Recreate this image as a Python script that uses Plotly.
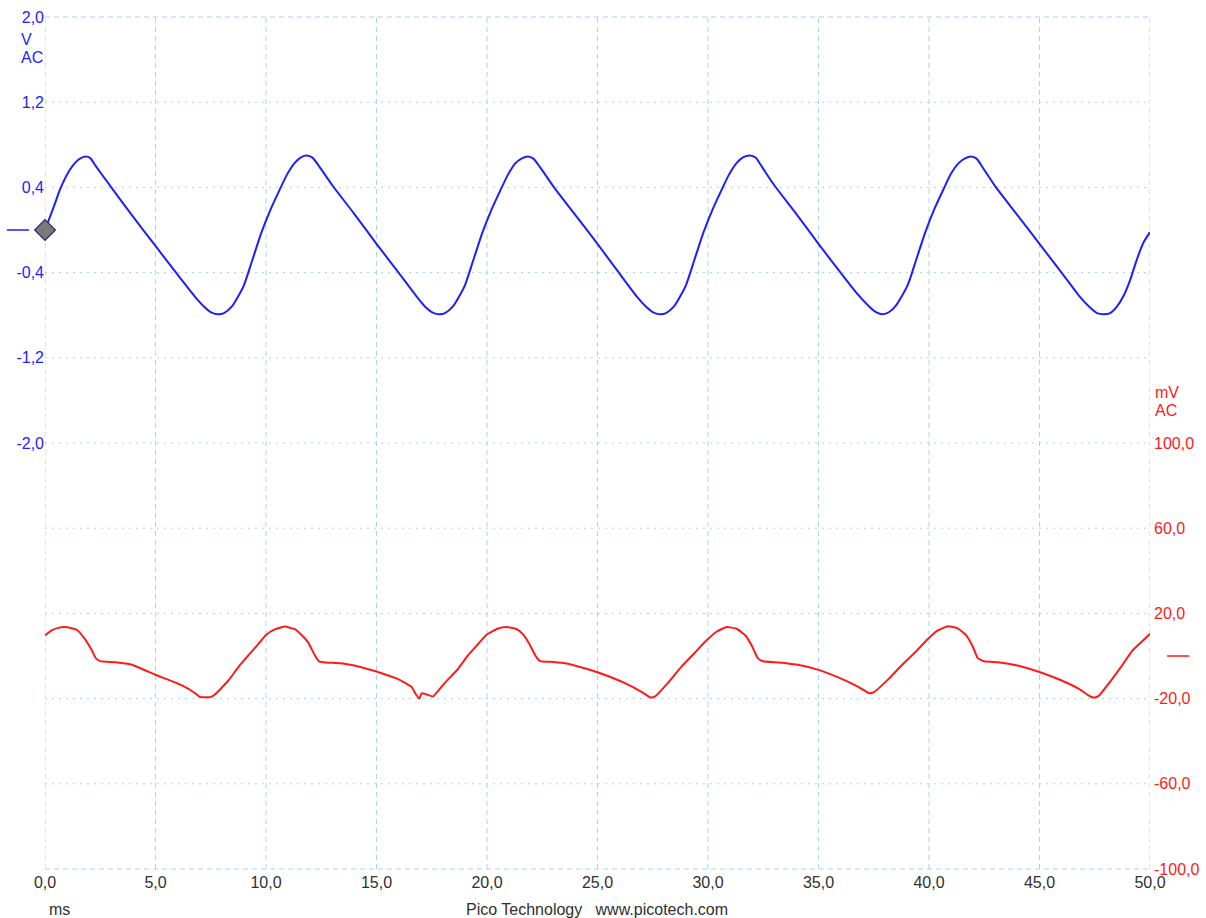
import plotly.graph_objects as go

# ---------------- data ----------------
blue_t = [0.0, 0.4, 0.7, 1.05, 1.4, 1.62, 1.85, 2.05, 2.3, 3.0, 4.0, 5.0, 6.0, 6.8, 7.2, 7.5, 7.8, 8.1, 8.45, 8.75,
          9.0, 9.4, 9.8, 10.2, 10.6, 10.95, 11.3, 11.6, 11.85, 12.1, 12.4, 13.0, 14.0, 15.0, 16.0, 16.8, 17.2, 17.5,
          17.8, 18.1, 18.45, 18.75, 19.0, 19.4, 19.8, 20.2, 20.6, 20.95, 21.3, 21.6, 21.85, 22.1, 22.4, 23.0, 24.0,
          25.0, 26.0, 26.8, 27.2, 27.5, 27.8, 28.1, 28.45, 28.75, 29.0, 29.4, 29.8, 30.2, 30.6, 30.95, 31.3, 31.6,
          31.9, 32.15, 32.45, 33.0, 34.0, 35.0, 36.0, 36.8, 37.3, 37.6, 37.9, 38.2, 38.5, 38.8, 39.05, 39.45, 39.85,
          40.25, 40.65, 41.0, 41.35, 41.65, 41.9, 42.15, 42.45, 43.0, 44.0, 45.0, 46.0, 46.8, 47.3, 47.6, 47.9, 48.2,
          48.5, 48.8, 49.1, 49.4, 49.7, 50.0]
blue_v = [0.00, 0.22, 0.39, 0.54, 0.64, 0.675, 0.69, 0.675, 0.60, 0.40, 0.12, -0.15, -0.42, -0.63, -0.72, -0.77,
          -0.79, -0.78, -0.72, -0.62, -0.52, -0.27, -0.02, 0.19, 0.37, 0.52, 0.63, 0.685, 0.70, 0.68, 0.60, 0.42,
          0.15, -0.13, -0.40, -0.62, -0.72, -0.77, -0.79, -0.78, -0.72, -0.62, -0.52, -0.27, -0.02, 0.19, 0.37,
          0.52, 0.63, 0.675, 0.69, 0.67, 0.59, 0.41, 0.14, -0.13, -0.41, -0.63, -0.72, -0.77, -0.79, -0.78, -0.72,
          -0.62, -0.52, -0.27, -0.02, 0.19, 0.37, 0.52, 0.63, 0.685, 0.70, 0.68, 0.59, 0.42, 0.15, -0.13, -0.40,
          -0.61, -0.72, -0.77, -0.79, -0.77, -0.71, -0.61, -0.51, -0.26, -0.01, 0.20, 0.38, 0.53, 0.63, 0.675,
          0.69, 0.67, 0.58, 0.41, 0.14, -0.13, -0.40, -0.62, -0.73, -0.78, -0.79, -0.78, -0.72, -0.62, -0.47,
          -0.28, -0.12, -0.02]

red_t = [0.0, 0.3, 0.6, 0.9, 1.2, 1.45, 1.8, 2.1, 2.3, 2.5, 3.2, 3.9, 5.0, 6.2, 6.8, 7.0, 7.5, 7.7, 8.3, 8.8, 9.3,
         9.6, 10.0, 10.4, 10.85, 11.3, 11.6, 11.9, 12.2, 12.4, 12.7, 13.4, 14.0, 15.2, 16.0, 16.6, 16.75, 16.94,
         17.04, 17.26, 17.56, 18.1, 18.63, 19.08, 19.5, 19.98, 20.5, 20.9, 21.3, 21.6, 21.9, 22.2, 22.4, 23.0, 23.6,
         24.5, 25.5, 26.5, 27.1, 27.4, 27.6, 28.2, 28.8, 29.4, 29.9, 30.4, 30.85, 31.3, 31.7, 32.0, 32.25, 32.5,
         33.2, 34.0, 35.0, 36.0, 36.8, 37.3, 37.5, 38.2, 38.8, 39.4, 39.9, 40.4, 40.85, 41.3, 41.7, 42.0, 42.2, 42.5,
         43.2, 44.0, 45.0, 46.0, 46.8, 47.3, 47.5, 47.7, 48.2, 48.7, 49.2, 49.6, 50.0]
red_v = [9.6, 12.0, 13.2, 13.6, 13.0, 12.2, 8.0, 3.0, -1.0, -2.4, -2.9, -4.0, -8.8, -13.8, -17.5, -19.2, -19.3,
         -18.0, -11.5, -4.5, 1.5, 5.0, 9.9, 12.5, 13.8, 12.6, 10.0, 6.5, 0.5, -2.5, -3.0, -3.4, -4.5, -8.0, -11.0,
         -14.6, -17.5, -20.0, -17.5, -18.0, -19.0, -12.5, -6.8, -0.5, 4.5, 10.0, 12.9, 13.6, 12.8, 10.5, 6.0, 0.0,
         -2.4, -2.8, -3.5, -6.0, -9.5, -14.0, -17.5, -19.5, -19.0, -12.5, -5.0, 1.5, 7.0, 11.5, 13.6, 12.8, 9.5, 4.5,
         -1.0, -2.5, -3.0, -4.0, -6.5, -10.5, -14.5, -17.5, -17.0, -10.5, -4.0, 2.0, 7.5, 12.0, 14.0, 13.0, 9.5, 4.0,
         -1.0, -2.5, -3.0, -4.5, -7.5, -11.5, -15.5, -19.0, -19.5, -18.5, -12.0, -5.0, 2.5, 6.5, 10.4]

x_ticks = [0, 5, 10, 15, 20, 25, 30, 35, 40, 45, 50]
x_tick_labels = ["0,0", "5,0", "10,0", "15,0", "20,0", "25,0", "30,0", "35,0", "40,0", "45,0", "50,0"]
blue_ticks = [2.0, 1.2, 0.4, -0.4, -1.2, -2.0]
blue_tick_labels = ["2,0", "1,2", "0,4", "-0,4", "-1,2", "-2,0"]
red_ticks = [100, 60, 20, -20, -60, -100]
red_tick_labels = ["100,0", "60,0", "20,0", "-20,0", "-60,0", "-100,0"]
grid_rows = [0, 1, 2, 3, 4, 5, 6, 7, 8, 9, 10]

# ---------------- styles ----------------
BLUE = "#1e1eff"
RED = "#ff1a1a"
GRID = "#a6d6e8"
TXT = "#303030"
FONT = "Liberation Sans, Arial, sans-serif"

fig = go.Figure()
fig.add_trace(go.Scatter(x=blue_t, y=blue_v, mode="lines",
                         line=dict(color=BLUE, width=2, shape="spline", smoothing=0.7),
                         yaxis="y", showlegend=False, hoverinfo="skip"))
fig.add_trace(go.Scatter(x=red_t, y=red_v, mode="lines",
                         line=dict(color=RED, width=2, shape="spline", smoothing=0.4),
                         yaxis="y2", showlegend=False, hoverinfo="skip"))
# trigger marker
fig.add_trace(go.Scatter(x=[0], y=[0], mode="markers", yaxis="y", cliponaxis=False,
                         marker=dict(symbol="diamond", size=16, color="#7a7a7a",
                                     line=dict(color="#2a2a70", width=1.2)),
                         showlegend=False, hoverinfo="skip"))

shapes = []
for xv in x_ticks:
    shapes.append(dict(type="line", xref="x", yref="paper", x0=xv, x1=xv, y0=0, y1=1, layer="below",
                       line=dict(color=GRID, width=1, dash="5px,4px")))
for r in grid_rows:
    edge = r in (0, 10)
    shapes.append(dict(type="line", xref="paper", yref="paper", x0=0, x1=1, y0=r / 10, y1=r / 10, layer="below",
                       line=dict(color=GRID, width=1, dash="5px,4px" if edge else "2px,5px")))
# channel zero markers
shapes.append(dict(type="line", xref="paper", yref="y", x0=-0.0345, x1=-0.0145, y0=0, y1=0,
                   line=dict(color=BLUE, width=1.5)))
shapes.append(dict(type="line", xref="paper", yref="y2", x0=1.0155, x1=1.0355, y0=0, y1=0,
                   line=dict(color=RED, width=1.5)))

annotations = [
    dict(text="V", xref="paper", yref="paper", x=-0.0235, y=0.974, xanchor="left", yanchor="middle",
         showarrow=False, font=dict(color=BLUE, size=16, family=FONT)),
    dict(text="AC", xref="paper", yref="paper", x=-0.0235, y=0.952, xanchor="left", yanchor="middle",
         showarrow=False, font=dict(color=BLUE, size=16, family=FONT)),
    dict(text="mV", xref="paper", yref="paper", x=1.003, y=0.5587, xanchor="left", yanchor="middle",
         showarrow=False, font=dict(color=RED, size=16, family=FONT)),
    dict(text="AC", xref="paper", yref="paper", x=1.003, y=0.5376, xanchor="left", yanchor="middle",
         showarrow=False, font=dict(color=RED, size=16, family=FONT)),
    dict(text="ms", xref="paper", yref="paper", x=0.0015, y=-0.047, xanchor="left", yanchor="middle",
         showarrow=False, font=dict(color=TXT, size=16, family=FONT)),
    dict(text="Pico Technology   www.picotech.com", xref="paper", yref="paper", x=0.4995, y=-0.047,
         xanchor="center", yanchor="middle", showarrow=False, font=dict(color=TXT, size=16, family=FONT)),
]

fig.update_layout(
    width=1206, height=918,
    margin=dict(l=45, r=56, t=17, b=49, pad=0, autoexpand=False),
    paper_bgcolor="white", plot_bgcolor="white",
    font=dict(family=FONT, size=16, color=TXT),
    showlegend=False,
    shapes=shapes,
    annotations=annotations,
    xaxis=dict(range=[0, 50], tickvals=x_ticks, ticktext=x_tick_labels, showgrid=False, zeroline=False,
               showline=False, ticks="", tickfont=dict(color=TXT, size=16), ticklabelstandoff=2,
               automargin=False, fixedrange=True),
    yaxis=dict(range=[-6, 2], tickvals=blue_ticks, ticktext=blue_tick_labels, showgrid=False, zeroline=False,
               showline=False, ticks="", tickfont=dict(color=BLUE, size=16), ticklabelstandoff=0,
               automargin=False, fixedrange=True),
    yaxis2=dict(range=[-100, 300], tickvals=red_ticks, ticktext=red_tick_labels, showgrid=False, zeroline=False,
                showline=False, ticks="", tickfont=dict(color=RED, size=16), overlaying="y", side="right",
                ticklabelstandoff=3, automargin=False, fixedrange=True),
)

fig.write_html("out.html", config={"displayModeBar": False},
               post_script="document.body.style.margin='0';")
